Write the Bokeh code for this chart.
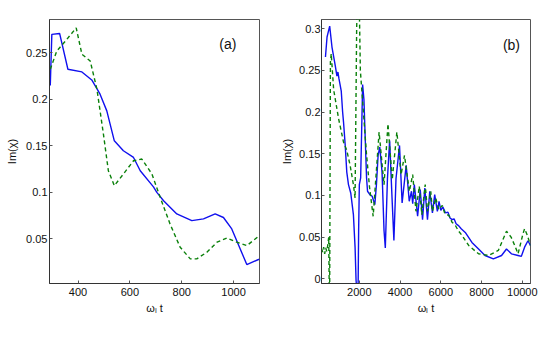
from bokeh.plotting import figure
from bokeh.layouts import row
from bokeh.models import Range1d, FixedTicker, Label
from bokeh.embed import file_html
from bokeh.resources import INLINE

# ---------------- panel (a) data ----------------
a_blue_x = [293, 299, 329, 361, 415, 453, 485, 511, 540, 575, 614, 640, 691, 704, 730, 781, 839, 884, 929, 961, 993, 1051, 1096, 1100]
a_blue_y = [0.215, 0.270, 0.271, 0.2325, 0.2296, 0.221, 0.2057, 0.1877, 0.1555, 0.1448, 0.1376, 0.1233, 0.106, 0.100, 0.091, 0.0768, 0.0696, 0.0715, 0.0768, 0.0730, 0.0607, 0.0224, 0.0278, 0.0280]
a_green_x = [293, 318, 357, 393, 415, 447, 473, 498, 517, 540, 575, 614, 646, 685, 717, 755, 794, 833, 858, 897, 936, 974, 1013, 1051, 1100]
a_green_y = [0.2325, 0.252, 0.2647, 0.277, 0.2486, 0.2414, 0.211, 0.1627, 0.1233, 0.1072, 0.1198, 0.134, 0.1359, 0.1198, 0.0947, 0.066, 0.041, 0.0285, 0.0285, 0.0356, 0.0464, 0.051, 0.0464, 0.0428, 0.0535]
a_x_ticks = [400, 600, 800, 1000]
a_x_labels = ["400", "600", "800", "1000"]
a_y_ticks = [0.05, 0.1, 0.15, 0.2, 0.25]
a_y_labels = ["0.05", "0.1", "0.15", "0.2", "0.25"]

# ---------------- panel (b) data ----------------
b_blue_x = [337, 415, 545, 657, 822, 900, 950, 1000, 1113, 1180, 1224, 1307, 1384, 1467, 1578, 1709, 1791, 1840, 1900, 1940, 1966, 2000,
            2065, 2113, 2161, 2226, 2290, 2355, 2403, 2518, 2630, 2760, 2839, 2921, 3003, 3115, 3212, 3275, 3380, 3488, 3600, 3697,
            3800, 3973, 4100, 4300, 4450, 4560, 4620, 4700, 4861, 4990, 5103, 5215, 5345, 5457, 5588, 5700, 5830, 5912, 6000, 6100,
            6233, 6350, 6450, 6558, 6650, 6750, 6882, 7000, 7200, 7527, 7852, 8170, 8580, 8982, 9224, 9467, 9790, 9952, 10112, 10277, 10402]
b_blue_y = [0.266, 0.290, 0.303, 0.278, 0.255, 0.243, 0.248, 0.240, 0.225, 0.200, 0.188, 0.160, 0.128, 0.113, 0.103, 0.077, 0.038, -0.002, -0.02, -0.01, 0.058, 0.113,
            0.121, 0.176, 0.233, 0.215, 0.168, 0.121, 0.105, 0.101, 0.099, 0.089, 0.113, 0.148, 0.158, 0.128, 0.058, 0.037, 0.120, 0.166, 0.100, 0.046,
            0.120, 0.160, 0.091, 0.136, 0.093, 0.105, 0.090, 0.113, 0.075, 0.107, 0.071, 0.109, 0.071, 0.105, 0.079, 0.101, 0.081, 0.093, 0.082, 0.086,
            0.079, 0.080, 0.073, 0.071, 0.072, 0.066, 0.0635, 0.060, 0.0556, 0.0437, 0.0358, 0.028, 0.024, 0.028, 0.0358, 0.030, 0.028, 0.027, 0.038, 0.0457, 0.040]
b_green_x = [150, 200, 250, 300, 350, 400, 450, 497, 540, 580, 620, 739, 982, 1224, 1384, 1549, 1709, 1791, 1869, 1950, 2050, 2200, 2350, 2500,
             2679, 2970, 3212, 3406, 3615, 3842, 4051, 4216, 4458, 4618, 4780, 4943, 5069, 5234, 5345, 5506, 5588, 5748, 5900, 6073,
             6200, 6398, 6550, 6718, 6850, 7042, 7367, 7852, 8337, 8821, 9224, 9450, 9627, 9790, 10034, 10112, 10250, 10402]
b_green_y = [0.036, 0.032, 0.038, 0.030, 0.037, 0.033, 0.040, 0.050, -0.05, 0.26, 0.27, 0.227, 0.192, 0.164, 0.154, 0.136, 0.113, 0.097, 0.300, 0.40, 0.25, 0.20, 0.15, 0.11,
             0.075, 0.176, 0.113, 0.186, 0.119, 0.176, 0.125, 0.148, 0.105, 0.125, 0.081, 0.111, 0.077, 0.113, 0.081, 0.105, 0.081, 0.097, 0.083, 0.088,
             0.078, 0.076, 0.068, 0.064, 0.058, 0.052, 0.040, 0.030, 0.028, 0.034, 0.057, 0.050, 0.040, 0.030, 0.054, 0.060, 0.052, 0.040]
b_x_ticks = [2000, 4000, 6000, 8000, 10000]
b_x_labels = ["2000", "4000", "6000", "8000", "10000"]
b_y_ticks = [0, 0.05, 0.1, 0.15, 0.2, 0.25, 0.3]
b_y_labels = ["0", "0.05", "0.1", "0.15", "0.2", "0.25", "0.3"]

BLUE = "#1010ee"
GREEN = "#0a800a"
FONT = "Liberation Sans"
X_LABEL = "\u03c9\u2097 t"
Y_LABEL = "Im(\u03c7)"


def make_panel(width, height, xr, yr, xt, xl, yt, yl, bx, by, gx, gy, tag, tag_x, tag_y,
               bl, bt, br, bb, y_label_standoff, y_axis_standoff):
    p = figure(width=width, height=height, output_backend="svg", toolbar_location=None,
               x_range=Range1d(*xr), y_range=Range1d(*yr),
               min_border_left=bl, min_border_top=bt, min_border_right=br, min_border_bottom=bb)
    p.xgrid.visible = False
    p.ygrid.visible = False
    p.outline_line_color = "#555555"
    p.outline_line_width = 1
    p.background_fill_color = "white"
    p.border_fill_color = "white"

    p.line(bx, by, line_color=BLUE, line_width=1.4)
    p.line(gx, gy, line_color=GREEN, line_width=1.4, line_dash="4 3")

    for ax in p.xaxis:
        ax.ticker = FixedTicker(ticks=xt)
        ax.major_label_overrides = {t: s for t, s in zip(xt, xl)}
        ax.axis_label = X_LABEL
        ax.major_label_standoff = 4
        ax.axis_label_standoff = 3
    for ax in p.yaxis:
        ax.ticker = FixedTicker(ticks=yt)
        ax.major_label_overrides = {t: s for t, s in zip(yt, yl)}
        ax.axis_label = Y_LABEL
        ax.major_label_standoff = y_label_standoff
        ax.axis_label_standoff = y_axis_standoff
    for ax in list(p.xaxis) + list(p.yaxis):
        ax.major_tick_in = 3
        ax.major_tick_out = 0
        ax.minor_tick_line_color = None
        ax.axis_line_color = "#333333"
        ax.major_tick_line_color = "#555555"
        ax.major_label_text_font = FONT
        ax.major_label_text_font_size = "11px"
        ax.major_label_text_color = "#111111"
        ax.axis_label_text_font = FONT
        ax.axis_label_text_font_size = "11px"
        ax.axis_label_text_font_style = "normal"
        ax.axis_label_text_color = "#111111"

    p.add_layout(Label(x=tag_x, y=tag_y, text=tag, text_font=FONT, text_font_size="14px",
                       text_align="center", text_baseline="middle", text_color="#111111"))
    return p


pa = make_panel(278, 334, (290, 1100), (0.002, 0.286), a_x_ticks, a_x_labels, a_y_ticks, a_y_labels,
                a_blue_x, a_blue_y, a_green_x, a_green_y, "(a)", 978, 0.26,
                49, 18, 19, 51, 2, 5)
pb = make_panel(262, 334, (143, 10402), (-0.0056, 0.311), b_x_ticks, b_x_labels, b_y_ticks, b_y_labels,
                b_blue_x, b_blue_y, b_green_x, b_green_y, "(b)", 9467, 0.280,
                40, 19, 10, 47, 1, 3)

layout = row(pa, pb)
open("out.html", "w").write(file_html(layout, INLINE))
